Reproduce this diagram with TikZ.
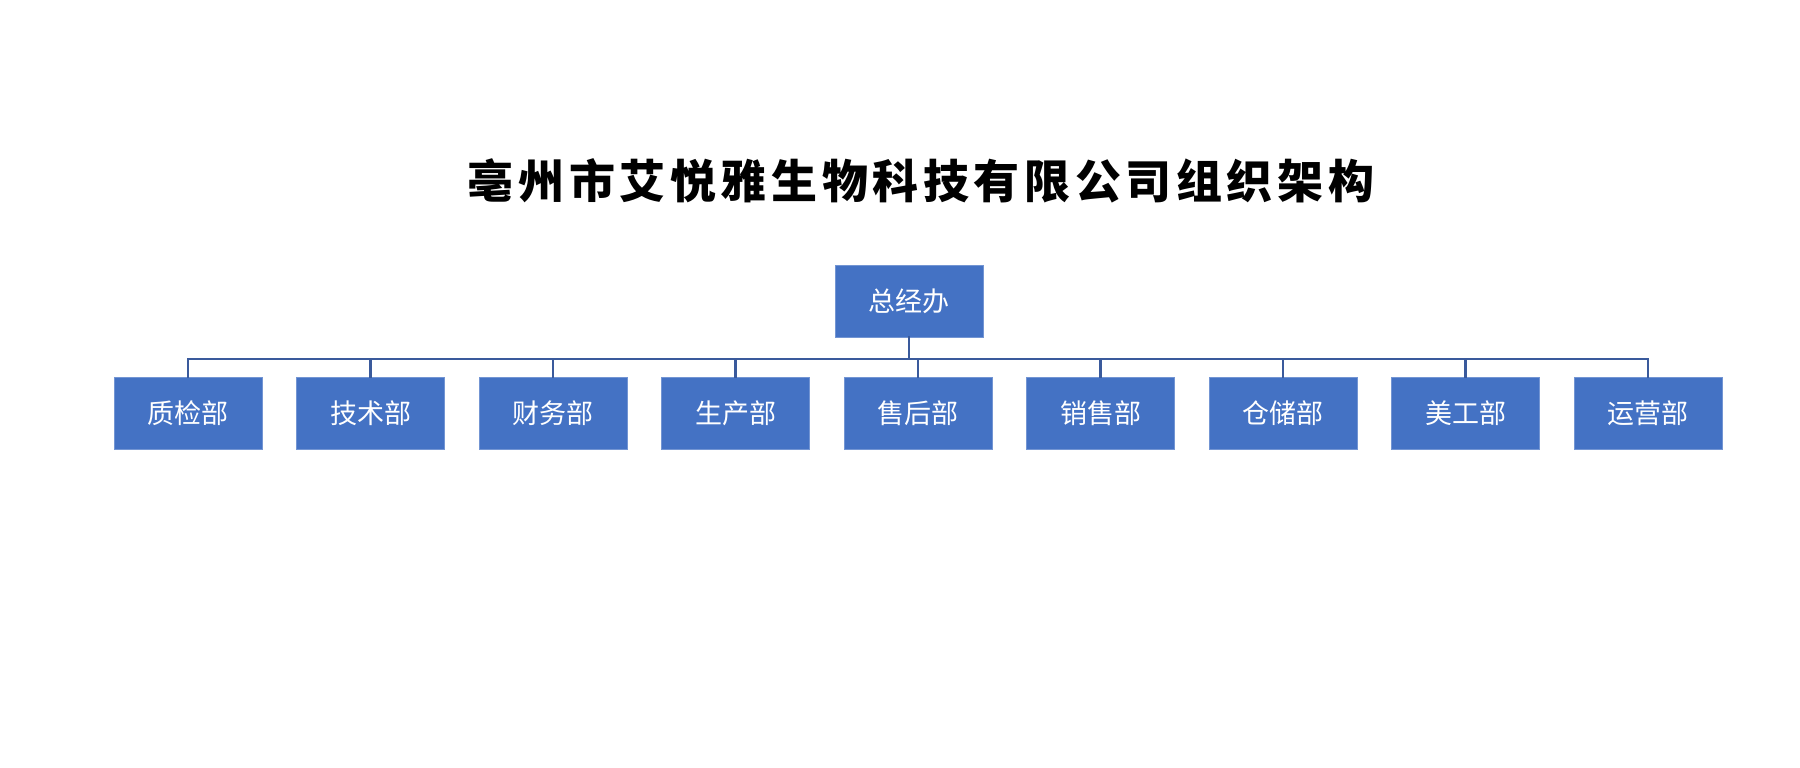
\documentclass[tikz,border=0pt]{standalone}
\usepackage{fontspec}
\usepackage{xcolor}
\usepackage{tikz}
\setmainfont{Noto Sans CJK SC}
\definecolor{boxblue}{HTML}{4472C4}
\definecolor{linkblue}{HTML}{3A5A9C}
\tikzset{
  orgbox/.style={fill=boxblue, draw=boxblue!75!white, line width=0.5pt,
    minimum width=74pt, minimum height=36pt, inner sep=0pt, text=white,
    font=\fontsize{13.5pt}{16pt}\selectfont},
  link/.style={draw=linkblue, line width=1.2pt, line cap=rect}
}

\begin{document}
\begin{tikzpicture}[x=0.5pt, y=-0.5pt]
  \useasboundingbox (0,0) rectangle (1800,767);
  \node[font=\bfseries\fontsize{23pt}{26pt}\selectfont\addfontfeature{LetterSpace=10}] (title) at (921,181)
    {亳州市艾悦雅生物科技有限公司组织架构};
  \node[orgbox] (root) at (909,301) {总经办};
  \coordinate (bus) at (0,359);
  \foreach \name [count=\i from 0] in {质检部,技术部,财务部,生产部,售后部,销售部,仓储部,美工部,运营部} {
    \node[orgbox] (dept\i) at (188+182.5*\i,413) {\name};
    \draw[link] (dept\i.north) -- (dept\i.north |- bus);
  }
  \draw[link] (root.south) -- (root.south |- bus);
  \draw[link] (dept0.north |- bus) -- (dept8.north |- bus);
\end{tikzpicture}
\end{document}
